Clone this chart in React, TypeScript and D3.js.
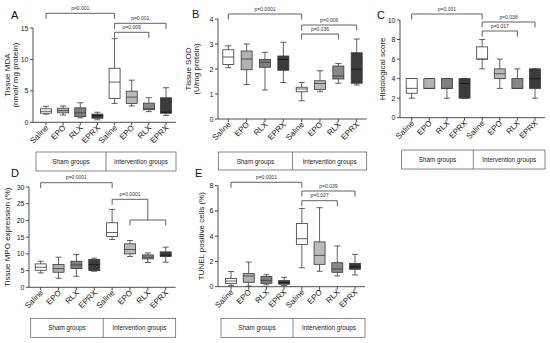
import React from "react";
import * as d3 from "d3";

// ---------- data ----------
const groups = ["Saline", "EPO", "RLX", "EPRX", "Saline", "EPO", "RLX", "EPRX"];
const groupBoxLabels = ["Sham groups", "Intervention groups"];

// [min, q1, median, q3, max]
const mdaStats = [
  [1.3, 1.45, 1.75, 2.15, 2.55],
  [1.15, 1.5, 1.85, 2.25, 2.6],
  [0.7, 0.9, 1.5, 2.3, 3.1],
  [0.4, 0.65, 1.05, 1.3, 1.6],
  [3.0, 3.8, 6.4, 8.6, 13.3],
  [2.6, 3.0, 4.0, 4.95, 6.7],
  [1.7, 2.0, 2.15, 3.05, 3.9],
  [1.1, 1.45, 1.6, 3.9, 5.5],
];
const sodStats = [
  [2.05, 2.18, 2.48, 2.77, 2.93],
  [1.38, 1.97, 2.4, 2.72, 3.0],
  [1.16, 2.07, 2.27, 2.38, 2.67],
  [1.46, 1.95, 2.38, 2.52, 3.07],
  [0.73, 1.09, 1.2, 1.27, 1.46],
  [1.09, 1.18, 1.42, 1.53, 1.93],
  [1.43, 1.6, 1.72, 2.12, 2.22],
  [1.36, 1.43, 1.99, 2.65, 3.2],
];
const histStats = [
  [2, 2.5, 3, 4, 4],
  [3, 3, 3, 4, 4],
  [2, 3, 3, 4, 4],
  [2, 2, 3.5, 4, 4],
  [5, 6, 6, 7.25, 8],
  [3, 4, 4.5, 5, 6],
  [3, 3, 3, 4, 5],
  [2, 3, 4, 5, 5],
];
const mpoStats = [
  [4.3, 5.1, 6.0, 7.0, 7.8],
  [2.7, 4.5, 5.6, 6.8, 9.0],
  [3.3, 5.6, 6.7, 7.8, 9.8],
  [4.8, 5.0, 6.8, 8.3, 8.7],
  [14.3, 15.2, 16.4, 19.3, 23.3],
  [9.2, 10.0, 11.3, 13.0, 14.0],
  [7.4, 8.5, 9.0, 9.7, 10.3],
  [7.5, 9.2, 9.6, 10.6, 12.0],
];
const tunelStats = [
  [0.1, 0.25, 0.45, 0.65, 1.2],
  [0.05, 0.35, 0.85, 1.05, 1.95],
  [0.15, 0.27, 0.5, 0.8, 0.95],
  [0.1, 0.2, 0.32, 0.48, 0.74],
  [1.5, 3.35, 3.8, 5.0, 6.2],
  [1.22, 1.77, 2.48, 3.55, 6.26],
  [0.85, 1.14, 1.4, 1.9, 3.22],
  [0.93, 1.38, 1.58, 1.85, 2.56],
];

const mdaTicks = [0, 5, 10, 15];
const sodTicks = [0, 1, 2, 3, 4];
const histTicks = [0, 2, 4, 6, 8, 10];
const mpoTicks = [0, 5, 10, 15, 20, 25, 30];
const tunelTicks = [0, 2, 4, 6, 8];

// comparisons: [from, to, label]
const mdaTests: [number, number, string][] = [[0, 4, "p=0.001"], [4, 7, "p=0.001"], [4, 6, "p=0.009"]];
const sodTests: [number, number, string][] = [[0, 4, "p=0.0001"], [4, 7, "p=0.006"], [4, 6, "p=0.036"]];
const histTests: [number, number, string][] = [[0, 4, "p=0.001"], [4, 7, "p=0.038"], [4, 6, "p=0.017"]];
// second MPO comparison: Saline (intervention) vs EPO..EPRX (intervention)
const mpoTests: [number, number, string][] = [[0, 4, "p=0.0001"], [4, 7, "p=0.0001"]];
const mpoGroupedFrom = 5;
const mpoGroupedJoin = 6;
const tunelTests: [number, number, string][] = [[0, 4, "p=0.0001"], [4, 7, "p=0.039"], [4, 6, "p=0.027"]];

// ---------- styles / layout ----------
const FONT = "'Liberation Sans', Arial, sans-serif";
const STROKE = "#3a3a3a";
const fills = ["#ffffff", "#b2b2b2", "#7e7e7e", "#3b3b3b", "#ffffff", "#bababa", "#888888", "#3b3b3b"];

type Cfg = {
  letter: string; lx: number; ly: number;
  axisX: number; xFirst: number; xLast: number; y0: number; yTop: number; yMax: number;
  ticks: number[]; stats: number[][]; tests: [number, number, string][];
  label: string[]; labelX: number[]; groupY: [number, number]; levels: number[];
  compound?: boolean;
};

const panels: Cfg[] = [
  { letter: "A", lx: 11, ly: 19, axisX: 33, xFirst: 46, xLast: 166, y0: 122.3, yTop: 28, yMax: 15,
    ticks: mdaTicks, stats: mdaStats, tests: mdaTests, label: ["Tissue MDA", "(nmol/ mg protein)"],
    labelX: [7, 15.5], groupY: [152, 171], levels: [13.3, 23.3, 32.3] },
  { letter: "B", lx: 192, ly: 18, axisX: 218, xFirst: 228.3, xLast: 356.7, y0: 119, yTop: 19, yMax: 4,
    ticks: sodTicks, stats: sodStats, tests: sodTests, label: ["Tissue SOD", "(U/mg protein)"],
    labelX: [188, 196.7], groupY: [152, 170], levels: [14, 25, 34] },
  { letter: "C", lx: 377, ly: 19, axisX: 400, xFirst: 411.7, xLast: 535, y0: 117.7, yTop: 20, yMax: 10,
    ticks: histTicks, stats: histStats, tests: histTests, label: ["Histological score"],
    labelX: [382.7], groupY: [150, 169], levels: [14, 22, 31] },
  { letter: "D", lx: 11, ly: 177, axisX: 29, xFirst: 40.7, xLast: 165.7, y0: 287.3, yTop: 187, yMax: 30,
    ticks: mpoTicks, stats: mpoStats, tests: mpoTests, label: ["Tissue MPO expression (%)"],
    labelX: [7.5], groupY: [318.3, 337.3], levels: [182.7, 199.3, 220], compound: true },
  { letter: "E", lx: 195, ly: 177, axisX: 218, xFirst: 231, xLast: 355, y0: 286.7, yTop: 185.7, yMax: 8,
    ticks: tunelTicks, stats: tunelStats, tests: tunelTests, label: ["TUNEL positive cells (%)"],
    labelX: [201.7], groupY: [318.3, 337.3], levels: [182.3, 191, 200.7] },
];

const LEG = 5.5;

function Panel({ c }: { c: Cfg }) {
  const x = d3.scalePoint<number>().domain(d3.range(groups.length)).range([c.xFirst, c.xLast]);
  const y = d3.scaleLinear().domain([0, c.yMax]).range([c.y0, c.yTop]);
  const bw = 11;
  const cap = 6;
  const xEnd = c.xLast + 10;
  const gx0 = c.xFirst - 10;
  const gx1 = c.xLast + 10;
  const gDiv = ((x(3) as number) + (x(4) as number)) / 2;
  const yMid = (c.y0 + c.yTop) / 2;

  const brackets: React.ReactNode[] = [];
  c.tests.forEach(([a, b, lab], i) => {
    const xa = x(a) as number;
    const xb = x(b) as number;
    const ly = c.levels[i];
    if (c.compound && i === 1) {
      const xj = x(mpoGroupedJoin) as number;
      const xs = x(mpoGroupedFrom) as number;
      const ly2 = c.levels[2];
      brackets.push(
        <g key={i}>
          <path d={`M${xa},${ly + LEG}V${ly}H${xj}V${ly2}`} fill="none" stroke={STROKE} strokeWidth={0.8} />
          <path d={`M${xs},${ly2 + LEG}V${ly2}H${xb}V${ly2 + LEG}`} fill="none" stroke={STROKE} strokeWidth={0.8} />
          <text x={(xa + xj) / 2} y={ly - 3.5} fontSize={5} textAnchor="middle" fill="#333">{lab}</text>
        </g>
      );
    } else {
      brackets.push(
        <g key={i}>
          <path d={`M${xa},${ly + LEG}V${ly}H${xb}V${ly + LEG}`} fill="none" stroke={STROKE} strokeWidth={0.8} />
          <text x={(xa + xb) / 2} y={ly - 3.5} fontSize={5} textAnchor="middle" fill="#333">{lab}</text>
        </g>
      );
    }
  });

  return (
    <g fontFamily={FONT}>
      <text x={c.lx} y={c.ly} fontSize={11} fill="#111">{c.letter}</text>
      {c.label.map((t, i) => (
        <text key={i} transform={`translate(${c.labelX[i]},${yMid}) rotate(-90)`} textAnchor="middle"
          dominantBaseline="central" fontSize={8} fill="#222">{t}</text>
      ))}
      <line x1={c.axisX} x2={c.axisX} y1={y(0)} y2={y(c.yMax)} stroke={STROKE} strokeWidth={0.9} />
      {c.ticks.map((t) => (
        <g key={t}>
          <line x1={c.axisX - 3} x2={c.axisX} y1={y(t)} y2={y(t)} stroke={STROKE} strokeWidth={0.9} />
          <text x={c.axisX - 4.5} y={y(t)} textAnchor="end" dominantBaseline="central" fontSize={7} fill="#222">{t}</text>
        </g>
      ))}
      <line x1={c.axisX} x2={xEnd} y1={y(0)} y2={y(0)} stroke={STROKE} strokeWidth={0.9} />
      {groups.map((g, i) => {
        const cx = x(i) as number;
        return (
          <g key={i}>
            <line x1={cx} x2={cx} y1={y(0)} y2={y(0) + 3} stroke={STROKE} strokeWidth={0.9} />
            <text transform={`translate(${cx + 3},${y(0) + 6}) rotate(-45)`} textAnchor="end" fontSize={8} fill="#222">{g}</text>
          </g>
        );
      })}
      {c.stats.map((s, i) => {
        const cx = x(i) as number;
        const [mn, q1, md, q3, mx] = s;
        return (
          <g key={i} stroke={STROKE} strokeWidth={0.8}>
            <line x1={cx} x2={cx} y1={y(q3)} y2={y(mx)} />
            <line x1={cx} x2={cx} y1={y(q1)} y2={y(mn)} />
            <line x1={cx - cap / 2} x2={cx + cap / 2} y1={y(mx)} y2={y(mx)} />
            <line x1={cx - cap / 2} x2={cx + cap / 2} y1={y(mn)} y2={y(mn)} />
            <rect x={cx - bw / 2} y={y(q3)} width={bw} height={Math.max(0.5, y(q1) - y(q3))} fill={fills[i]} />
            <line x1={cx - bw / 2} x2={cx + bw / 2} y1={y(md)} y2={y(md)} stroke={i === 3 || i === 7 ? "#111" : STROKE} />
          </g>
        );
      })}
      {brackets}
      <rect x={gx0} y={c.groupY[0]} width={gx1 - gx0} height={c.groupY[1] - c.groupY[0]} fill="none" stroke="#555" strokeWidth={0.7} />
      <line x1={gDiv} x2={gDiv} y1={c.groupY[0]} y2={c.groupY[1]} stroke="#555" strokeWidth={0.7} />
      <text x={(gx0 + gDiv) / 2} y={(c.groupY[0] + c.groupY[1]) / 2} textAnchor="middle" dominantBaseline="central" fontSize={6.3} fill="#222">{groupBoxLabels[0]}</text>
      <text x={(gDiv + gx1) / 2} y={(c.groupY[0] + c.groupY[1]) / 2} textAnchor="middle" dominantBaseline="central" fontSize={6.3} fill="#222">{groupBoxLabels[1]}</text>
    </g>
  );
}

export default function App() {
  return (
    <svg width={550} height={343} style={{ position: "absolute", left: 0, top: 0, background: "#fff" }}>
      <rect width={550} height={343} fill="#fff" />
      {panels.map((p) => (
        <Panel key={p.letter} c={p} />
      ))}
    </svg>
  );
}
